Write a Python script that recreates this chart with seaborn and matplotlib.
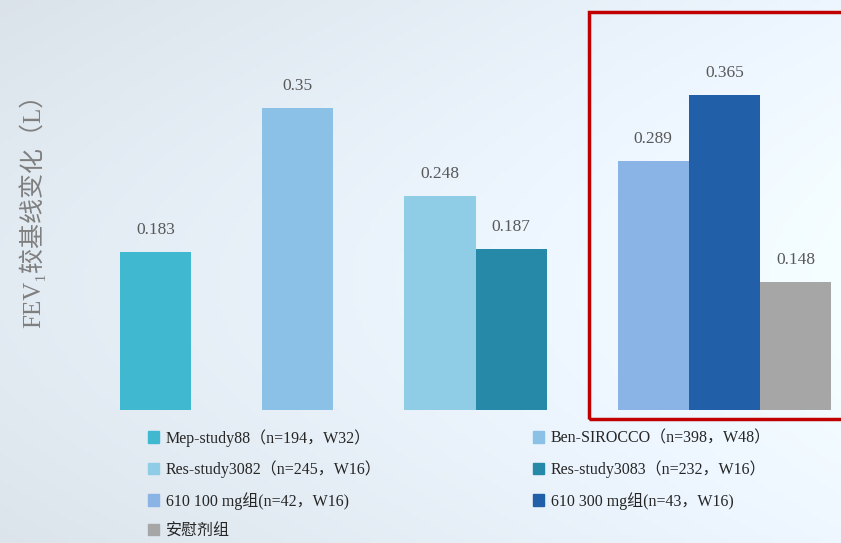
import numpy as np
import pandas as pd
import matplotlib
matplotlib.use("Agg")
import matplotlib.pyplot as plt
from matplotlib.patches import Rectangle, Patch
import seaborn as sns

# data
groups = ["Mep-study88（n=194，W32）", "Ben-SIROCCO（n=398，W48）",
          "Res-study3082（n=245，W16）", "Res-study3083（n=232，W16）",
          "610 100 mg组(n=42，W16)", "610 300 mg组(n=43，W16)", "安慰剂组"]
values = [0.183, 0.35, 0.248, 0.187, 0.289, 0.365, 0.148]
colors = ["#40b9d0", "#8cc1e7", "#8fcde6", "#2789a8", "#8ab3e6", "#2160a8", "#a6a6a6"]
ylabel = "FEV₁较基线变化（L）"

df = pd.DataFrame({"group": groups, "value": values})

sns.set_style("white")
plt.rcParams["font.family"] = ["Liberation Serif", "Noto Sans CJK SC", "DejaVu Sans"]

W, H = 841, 543
fig = plt.figure(figsize=(W / 100, H / 100), dpi=100)

# soft background
bg = fig.add_axes([0, 0, 1, 1], zorder=-5)
gx = np.linspace(0, 1, 200)
gy = np.linspace(0, 1, 120)[:, None]
grad = 0.875 + 0.075 * gx[None, :] + 0.03 * np.sin(gy * 3.0)
img = np.dstack([grad * 0.98, grad * 1.015, np.clip(grad * 1.05, 0, 1)])
bg.imshow(np.clip(img, 0, 1), aspect="auto", extent=[0, 1, 0, 1])
bg.axis("off")

ax = fig.add_axes([120 / W, 133 / H, 711 / W, 410 / H])
ax.set_facecolor("none")

# gaps between study blocks
order = [groups[0], " ", groups[1], "  ", groups[2], groups[3], "   ",
         groups[4], groups[5], groups[6]]
pal = dict(zip(groups, colors))
sns.barplot(data=df, x="group", y="value", hue="group", order=order,
            palette=pal, width=1.0, dodge=False, legend=False, ax=ax,
            saturation=1, linewidth=0)
ax.set_xlim(-0.5, 9.5)
ax.set_ylim(0, 0.475)
ax.axis("off")

for c in ax.containers:
    ax.bar_label(c, fmt="%g", padding=10, fontsize=12.5, color="#595959")

fig.text(32 / W, 1 - 205 / H, ylabel, rotation=90, ha="center", va="center",
         fontsize=18, color="#7f7f7f")

# red highlight box
fig.patches.append(Rectangle((589 / W, 1 - 419 / H), 260 / W, 407 / H,
                             transform=fig.transFigure, fill=False,
                             edgecolor="#c00000", linewidth=2.5))

# legend (column-first order)
idx = [0, 2, 4, 6, 1, 3, 5]
handles = [Patch(color=colors[i]) for i in idx]
labels = [groups[i] for i in idx]
fig.legend(handles, labels, ncol=2, loc="upper left",
           bbox_to_anchor=(140 / W, 1 - 421 / H), frameon=False,
           fontsize=11.5, handlelength=0.7, handleheight=0.7,
           handletextpad=0.4, labelspacing=0.86, columnspacing=9.5,
           borderpad=0, labelcolor="#262626")

fig.savefig("out.png", dpi=100)
